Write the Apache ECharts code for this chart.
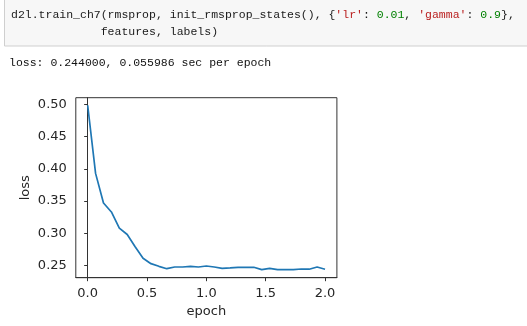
<!DOCTYPE html>
<html>
<head>
<meta charset="utf-8">
<script src="https://cdn.jsdelivr.net/npm/echarts@6/dist/echarts.min.js"></script>
<style>
html,body{margin:0;padding:0;background:#fff;}
#chart{width:527px;height:326px;}
</style>
</head>
<body>
<div id="chart"></div>
<script>
// Data
var epochs = [0.0000, 0.0667, 0.1333, 0.2000, 0.2667, 0.3333, 0.4000, 0.4667, 0.5333, 0.6000,
              0.6667, 0.7333, 0.8000, 0.8667, 0.9333, 1.0000, 1.0667, 1.1333, 1.2000, 1.2667,
              1.3333, 1.4000, 1.4667, 1.5333, 1.6000, 1.6667, 1.7333, 1.8000, 1.8667, 1.9333, 2.0000];
var losses = [0.499, 0.393, 0.347, 0.333, 0.308, 0.298, 0.279, 0.261, 0.2526, 0.2485,
              0.2448, 0.2474, 0.2474, 0.2485, 0.2474, 0.2490, 0.2474, 0.2453, 0.2460, 0.2470,
              0.2470, 0.2470, 0.2433, 0.2453, 0.2433, 0.2433, 0.2433, 0.2443, 0.2440, 0.2474, 0.2440];
var xTicks = [0.0, 0.5, 1.0, 1.5, 2.0];
var yTicks = [0.25, 0.30, 0.35, 0.40, 0.45, 0.50];
var xLabel = 'epoch';
var yLabel = 'loss';
var codeParts = ["d2l.train_ch7(rmsprop, init_rmsprop_states(), {", "'lr'", ": ", "0.01", ", ", "'gamma'", ": ", "0.9", "},"];
var codeKinds = ["k", "s", "k", "n", "k", "s", "k", "n", "k"];
var codeLine2 = "             features, labels)";
var outputLine = "loss: 0.244000, 0.055986 sec per epoch";

var mono = '"Liberation Mono", "DejaVu Sans Mono", monospace';
var fs = 11.5;
var kindColor = {k: '#1a1a1a', s: '#ba2121', n: '#008000'};

var cv = document.createElement('canvas').getContext('2d');
cv.font = fs + 'px ' + mono;

var graphics = [
  {type: 'rect', left: 4, top: -1, shape: {width: 540, height: 46.5},
   style: {fill: '#f7f7f7', stroke: '#cfcfcf', lineWidth: 1}, z: 0}
];
var cx = 11;
codeParts.forEach(function(p, i){
  graphics.push({type: 'text', x: cx, y: 15, z: 1,
    style: {text: p, fontFamily: mono, fontSize: fs, fill: kindColor[codeKinds[i]], verticalAlign: 'middle', align: 'left'}});
  cx += cv.measureText(p).width;
});
graphics.push({type: 'text', x: 11, y: 32, z: 1,
  style: {text: codeLine2, fontFamily: mono, fontSize: fs, fill: kindColor.k, verticalAlign: 'middle', align: 'left'}});
graphics.push({type: 'text', x: 9, y: 63, z: 1,
  style: {text: outputLine, fontFamily: mono, fontSize: fs, fill: '#111', verticalAlign: 'middle', align: 'left'}});

var chart = echarts.init(document.getElementById('chart'), null, {renderer: 'canvas'});
var data = epochs.map(function(x, i){ return [x, losses[i]]; });

chart.setOption({
  animation: false,
  backgroundColor: '#ffffff',
  graphic: graphics,
  grid: {left: 75.8, top: 97.7, width: 261.1, height: 180,
         show: true, borderColor: '#333', borderWidth: 1, backgroundColor: 'transparent'},
  xAxis: {
    type: 'value', min: -0.1, max: 2.1,
    name: xLabel, nameLocation: 'middle', nameGap: 27,
    nameTextStyle: {fontFamily: 'DejaVu Sans', fontSize: 13, color: '#262626'},
    axisLine: {show: true, lineStyle: {color: '#333', width: 1}},
    axisTick: {show: true, length: 3.5, inside: false, customValues: xTicks, lineStyle: {color: '#333', width: 1}},
    axisLabel: {customValues: xTicks, margin: 9, fontFamily: 'DejaVu Sans', fontSize: 13, color: '#262626',
                formatter: function(v){ return v.toFixed(1); }},
    splitLine: {show: false}
  },
  yAxis: {
    type: 'value', min: 0.2308, max: 0.5107,
    name: yLabel, nameLocation: 'middle', nameGap: 44,
    nameTextStyle: {fontFamily: 'DejaVu Sans', fontSize: 13, color: '#262626'},
    axisLine: {show: true, lineStyle: {color: '#333', width: 1}},
    axisTick: {show: true, length: 3.5, inside: false, customValues: yTicks, lineStyle: {color: '#333', width: 1}},
    axisLabel: {customValues: yTicks, margin: 9, fontFamily: 'DejaVu Sans', fontSize: 13, color: '#262626',
                formatter: function(v){ return v.toFixed(2); }},
    splitLine: {show: false}
  },
  series: [{
    type: 'line', data: data, showSymbol: false, symbol: 'none',
    lineStyle: {color: '#1f77b4', width: 1.7}, itemStyle: {color: '#1f77b4'}
  }]
});
</script>
</body>
</html>
